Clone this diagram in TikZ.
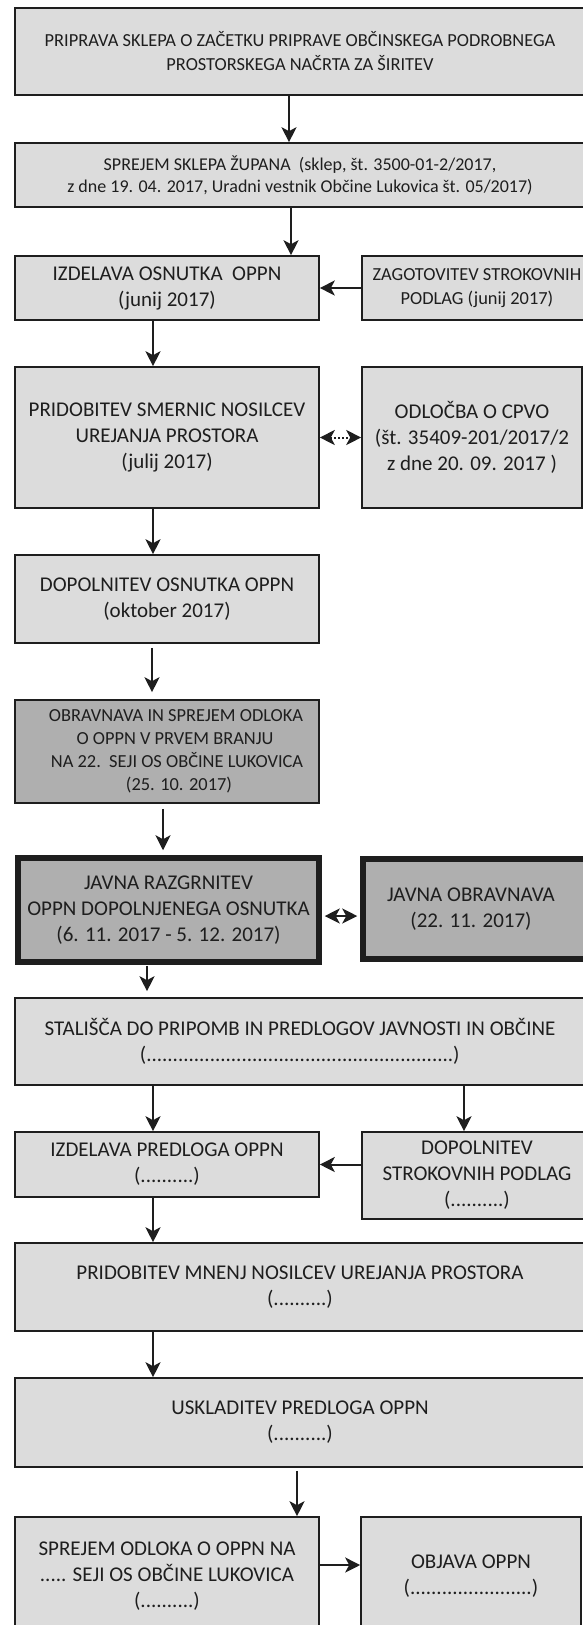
\documentclass[tikz,border=0pt]{standalone}
\usepackage{fontspec}
\setmainfont{Carlito}
\usetikzlibrary{arrows.meta}
\definecolor{boxgray}{HTML}{DCDCDC}
\definecolor{boxdark}{HTML}{AFAFAF}
\definecolor{ink}{HTML}{1E1E1E}
\tikzstyle{block} = [draw=ink, fill=boxgray, line width=1.6pt, rectangle, align=center, text=ink, inner sep=0pt, font=\fontsize{21}{26}\selectfont]
\tikzstyle{wide block} = [block, minimum width=570pt]
\tikzstyle{left block} = [block, minimum width=304pt]
\tikzstyle{dark block} = [block, fill=boxdark]
\tikzstyle{thick block} = [dark block, line width=5.5pt]
\tikzstyle{small text} = [font=\fontsize{18.4}{24}\selectfont]
\tikzstyle{flow} = [->, line width=2pt, draw=ink]

\begin{document}
\begin{tikzpicture}[x=1pt, y=-1pt, >={Stealth[length=15pt,width=15pt,inset=4pt]}]
    \useasboundingbox (0,0) rectangle (582,1625);

    \node[wide block, minimum height=87pt, small text] (sklep) at (300,51.5)
        {PRIPRAVA SKLEPA O ZAČETKU PRIPRAVE OBČINSKEGA PODROBNEGA\\PROSTORSKEGA NAČRTA ZA ŠIRITEV};
    \node[wide block, minimum height=64pt, font=\fontsize{18}{22}\selectfont] (zupan) at (300,175)
        {SPREJEM SKLEPA ŽUPANA~~(sklep, št. 3500-01-2/2017,\\z dne 19. 04. 2017, Uradni vestnik Občine Lukovica št. 05/2017)};
    \node[left block, minimum height=64pt] (osnutek) at (167,288)
        {IZDELAVA OSNUTKA~~OPPN\\(junij 2017)};
    \node[block, minimum width=230pt, minimum height=64pt, small text] (podlage) at (477,288)
        {ZAGOTOVITEV STROKOVNIH\\PODLAG (junij 2017)};
    \node[left block, minimum height=141pt] (smernice) at (167,437.5)
        {PRIDOBITEV SMERNIC NOSILCEV\\UREJANJA PROSTORA\\(julij 2017)};
    \node[block, minimum width=220pt, minimum height=141pt] (cpvo) at (472,437.5)
        {ODLOČBA O CPVO\\(št. 35409-201/2017/2\\z dne 20. 09. 2017 )};
    \node[left block, minimum height=88pt] (dopolnitev) at (167,599)
        {DOPOLNITEV OSNUTKA OPPN\\(oktober 2017)};
    \node[left block, dark block, minimum height=103pt, font=\fontsize{18.4}{23}\selectfont] (prvo) at (167,751.5)
        {\hspace*{18pt}OBRAVNAVA IN SPREJEM ODLOKA\\\hspace*{16pt}O OPPN V PRVEM BRANJU\\\hspace*{20pt}NA 22.~~SEJI OS OBČINE LUKOVICA\\\hspace*{24pt}(25. 10. 2017)};
    \node[thick block, minimum width=301pt, minimum height=104pt] (razgrnitev) at (168.5,910)
        {JAVNA RAZGRNITEV\\OPPN DOPOLNJENEGA OSNUTKA\\(6. 11. 2017 - 5. 12. 2017)};
    \node[thick block, minimum width=240pt, minimum height=100pt] (obravnava) at (483,909)
        {\hspace*{-24pt}JAVNA OBRAVNAVA\\\hspace*{-24pt}(22. 11. 2017)};
    \node[wide block, minimum height=87pt] (stalisca) at (300,1041.5)
        {STALIŠČA DO PRIPOMB IN PREDLOGOV JAVNOSTI IN OBČINE\\(..........................................................)};
    \node[left block, minimum height=65pt] (predlog) at (167,1164.5)
        {IZDELAVA PREDLOGA OPPN\\(..........)};
    \node[block, minimum width=230pt, minimum height=87pt] (strokovne) at (477,1175.5)
        {DOPOLNITEV\\STROKOVNIH PODLAG\\(..........)};
    \node[wide block, minimum height=88pt] (mnenja) at (300,1287)
        {PRIDOBITEV MNENJ NOSILCEV UREJANJA PROSTORA\\(..........)};
    \node[wide block, minimum height=89pt] (uskladitev) at (300,1422.5)
        {USKLADITEV PREDLOGA OPPN\\(..........)};
    \node[left block, minimum height=118pt] (sprejem) at (167,1576)
        {SPREJEM ODLOKA O OPPN NA\\..... SEJI OS OBČINE LUKOVICA\\(..........)};
    \node[block, minimum width=220pt, minimum height=118pt] (objava) at (471,1576)
        {OBJAVA OPPN\\(.......................)};

    % vertical flow
    \draw[flow] ([xshift=-11pt]sklep.south) -- ([xshift=-11pt]sklep.south |- zupan.north);
    \draw[flow] ([xshift=-9pt]zupan.south) -- ([xshift=-9pt]zupan.south |- osnutek.north);
    \draw[flow] (podlage.west) -- (osnutek.east);
    \draw[flow] ([xshift=-14pt]osnutek.south) -- ([xshift=-14pt]osnutek.south |- smernice.north);
    \draw[flow, <->, dash pattern=on 2pt off 2pt] (smernice.east) -- (cpvo.west);
    \draw[flow] ([xshift=-14pt]smernice.south) -- ([xshift=-14pt]smernice.south |- dopolnitev.north);
    \draw[flow, shorten <=4pt, shorten >=7pt] ([xshift=-15pt]dopolnitev.south) -- ([xshift=-15pt]dopolnitev.south |- prvo.north);
    \draw[flow, shorten <=5pt, shorten >=5pt] ([xshift=-4pt]prvo.south) -- ([xshift=-4pt]prvo.south |- razgrnitev.north);
    \draw[flow, <->, shorten <=3pt, shorten >=3pt] ([yshift=-6pt]razgrnitev.east) -- ([yshift=-6pt]razgrnitev.east -| obravnava.west);
    \draw[flow, shorten <=1pt, shorten >=6pt] ([xshift=-21.5pt]razgrnitev.south) -- ([xshift=-21.5pt]razgrnitev.south |- stalisca.north);
    \draw[flow] ([xshift=-14pt]predlog.north |- stalisca.south) -- ([xshift=-14pt]predlog.north);
    \draw[flow] ([xshift=-13pt]strokovne.north |- stalisca.south) -- ([xshift=-13pt]strokovne.north);
    \draw[flow] (strokovne.west |- predlog.east) -- (predlog.east);
    \draw[flow] ([xshift=-14pt]predlog.south) -- ([xshift=-14pt]predlog.south |- mnenja.north);
    \draw[flow] ([xshift=-147pt]mnenja.south) -- ([xshift=-147pt]mnenja.south |- uskladitev.north);
    \draw[flow, shorten <=3pt] ([xshift=-3pt]uskladitev.south) -- ([xshift=-3pt]uskladitev.south |- sprejem.north);
    \draw[flow] ([yshift=11pt]sprejem.east) -- ([yshift=11pt]sprejem.east -| objava.west);
\end{tikzpicture}
\end{document}
